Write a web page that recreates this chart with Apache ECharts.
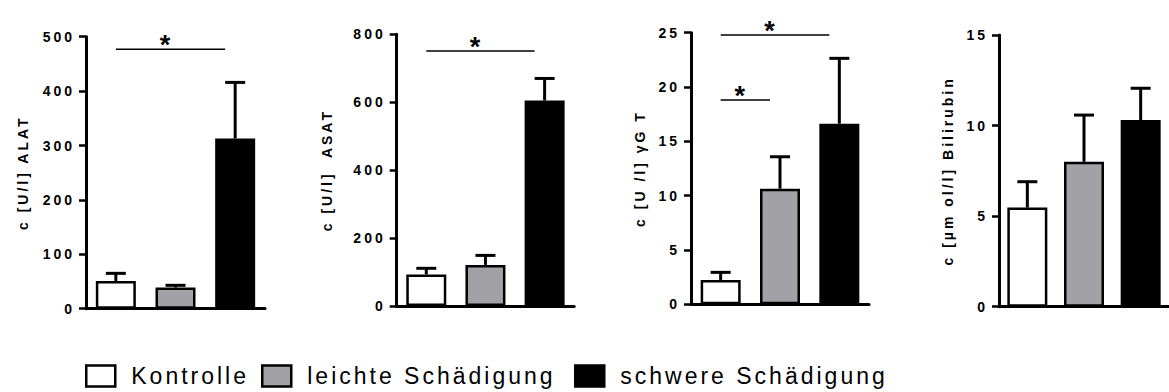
<!DOCTYPE html>
<html>
<head>
<meta charset="utf-8">
<script src="https://cdn.jsdelivr.net/npm/echarts@6/dist/echarts.min.js"></script>
<style>
  html, body { margin: 0; padding: 0; background: #fff; }
  #chart { width: 1169px; height: 392px; }
  #chart text { letter-spacing: 3px; }
</style>
</head>
<body>
<div id="chart"></div>
<script>
// ---- data ----
const groups = ['Kontrolle', 'leichte Schädigung', 'schwere Schädigung'];
const groupColors = ['#ffffff', '#a2a2a6', '#000000'];

const alatMean = [51, 39, 313];
const alatSd   = [14, 4, 103];
const asatMean = [93, 121, 605];
const asatSd   = [18, 28, 65];
const ggtMean  = [2.24, 10.64, 16.62];
const ggtSd    = [0.70, 2.94, 6.02];
const biliMean = [5.47, 8.0, 10.31];
const biliSd   = [1.43, 2.58, 1.75];

// significance brackets: [fromGroup, toGroup, level]
const alatSig = [[0, 2, 477]];
const asatSig = [[0, 2, 751]];
const ggtSig  = [[0, 2, 24.78], [0, 1, 18.8]];
const biliSig = [];

const axisNames = ['c [U/l] ALAT', 'c [U/l]  ASAT', 'c [U /l] \u03b3G T', 'c [\u00b5m ol/l] Bilirubin'];
const axisMax   = [500, 800, 25, 15];
const axisStep  = [100, 200, 5, 5];

const panels = [
  { mean: alatMean, sd: alatSd, sig: alatSig },
  { mean: asatMean, sd: asatSd, sig: asatSig },
  { mean: ggtMean,  sd: ggtSd,  sig: ggtSig },
  { mean: biliMean, sd: biliSd, sig: biliSig }
];

// ---- layout ----
const gridBoxes = [
  { left: 86,  top: 36.7, width: 179, height: 272 },
  { left: 396.7, top: 34.3, width: 177.5, height: 271.7 },
  { left: 691, top: 32.7, width: 178, height: 271.6 },
  { left: 999, top: 35, width: 179, height: 271.7 }
];
const nameGaps = [56, 63, 44, 44];
const FONT = "'Liberation Sans', Arial, sans-serif";

const grid = [], xAxis = [], yAxis = [], series = [];
panels.forEach((p, gi) => {
  grid.push(gridBoxes[gi]);
  xAxis.push({
    type: 'category', gridIndex: gi, data: groups,
    axisLine: { lineStyle: { color: '#000', width: 3 } },
    axisTick: { alignWithLabel: true, length: 7, lineStyle: { color: '#000', width: 2 } },
    axisLabel: { show: false }
  });
  yAxis.push({
    type: 'value', gridIndex: gi, min: 0, max: axisMax[gi], interval: axisStep[gi],
    name: axisNames[gi], nameLocation: 'middle', nameGap: nameGaps[gi],
    nameTextStyle: { fontFamily: FONT, fontWeight: 'bold', fontSize: 14, color: '#000' },
    axisLine: { show: true, lineStyle: { color: '#000', width: 3 } },
    axisTick: { show: true, length: 7, lineStyle: { color: '#000', width: 2.5 } },
    axisLabel: { fontFamily: FONT, fontWeight: 'bold', fontSize: 14, color: '#000', margin: 11 },
    splitLine: { show: false }
  });
  groups.forEach((g, k) => {
    series.push({
      type: 'bar', name: g, xAxisIndex: gi, yAxisIndex: gi,
      barWidth: 40, barGap: '-100%',
      data: p.mean.map((v, i) => (i === k ? v : '-')),
      itemStyle: { color: groupColors[k], borderColor: '#000', borderWidth: 2.5 },
      emphasis: { disabled: true }
    });
  });
  series.push({
    type: 'custom', xAxisIndex: gi, yAxisIndex: gi, z: 5, silent: true,
    data: p.mean.map((v, i) => [i, v, p.sd[i]]),
    renderItem: (params, api) => {
      const x = api.value(0), v = api.value(1), s = api.value(2);
      const a = api.coord([x, v]);
      const b = api.coord([x, v + s]);
      const st = { stroke: '#000', lineWidth: 3 };
      return { type: 'group', children: [
        { type: 'line', shape: { x1: a[0], y1: a[1], x2: b[0], y2: b[1] }, style: st },
        { type: 'line', shape: { x1: b[0] - 10, y1: b[1], x2: b[0] + 10, y2: b[1] }, style: st }
      ] };
    }
  });
  if (p.sig.length) {
    series.push({
      type: 'custom', xAxisIndex: gi, yAxisIndex: gi, z: 6, silent: true,
      data: p.sig,
      renderItem: (params, api) => {
        const y = api.value(2);
        const a = api.coord([api.value(0), y]);
        const b = api.coord([api.value(1), y]);
        const x2 = b[0] - 10;
        return { type: 'group', children: [
          { type: 'line', shape: { x1: a[0], y1: a[1], x2: x2, y2: a[1] }, style: { stroke: '#000', lineWidth: 1.5 } },
          { type: 'text', x: (a[0] + x2) / 2 - 4, y: a[1] - 4,
            style: { text: '*', fill: '#000', font: "bold 27px " + FONT, align: 'center', verticalAlign: 'middle' } }
        ] };
      }
    });
  }
});

const legendLefts = [80, 256, 569];
const legendTextWidths = [124, 262, 262];
const legend = groups.map((g, k) => ({
  data: [g], left: legendLefts[k], top: 359,
  itemWidth: 29, itemHeight: 21, selectedMode: false,
  icon: 'rect',
  itemStyle: { borderColor: '#000', borderWidth: 2.5 },
  textStyle: { fontFamily: FONT, fontSize: 23, lineHeight: 24, color: '#000',
               padding: [0, 0, 0, 11], width: legendTextWidths[k], overflow: 'none' }
}));

const chart = echarts.init(document.getElementById('chart'), null, { renderer: 'svg' });
chart.setOption({
  animation: false,
  backgroundColor: '#fff',
  grid, xAxis, yAxis, series, legend
});
</script>
</body>
</html>
